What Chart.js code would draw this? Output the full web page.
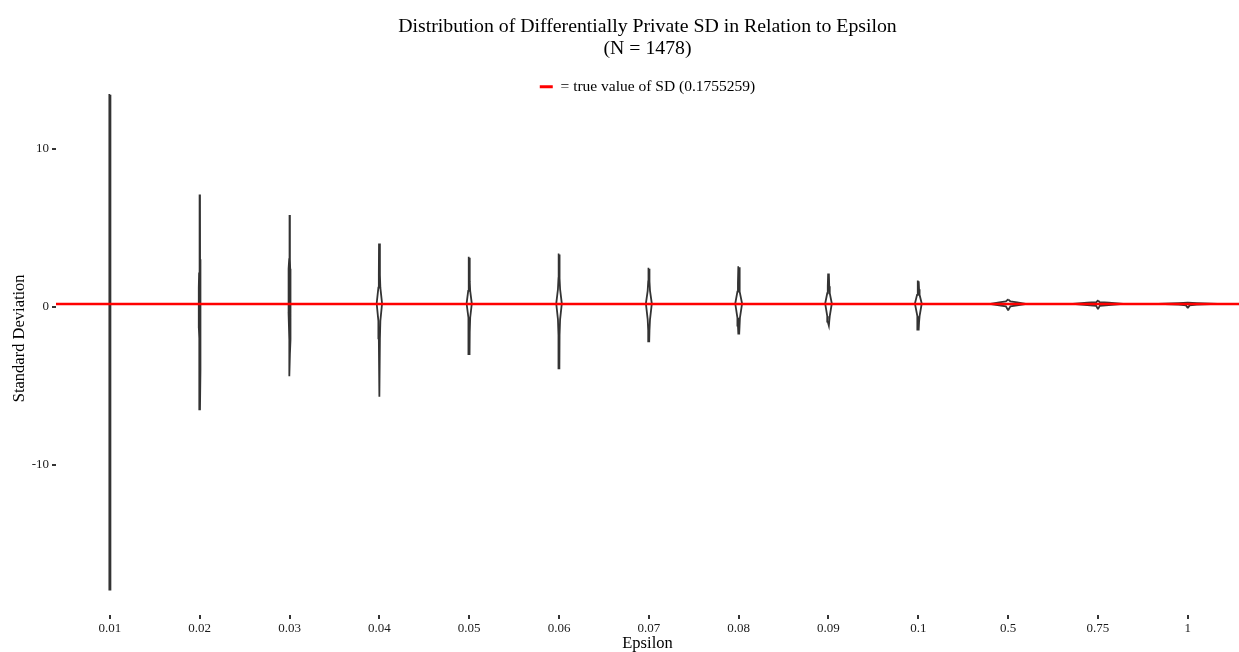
<!DOCTYPE html>
<html>
<head>
<meta charset="utf-8">
<title>DP SD vs Epsilon</title>
<script src="https://cdn.jsdelivr.net/npm/chart.js@4"></script>
<style>
  html, body { margin: 0; padding: 0; background: #fff; }
  #wrap { width: 1239px; height: 652px; }
</style>
</head>
<body>
<div id="wrap"><canvas id="violinChart"></canvas></div>
<script>
// ── data ──
const epsilons = ['0.01','0.02','0.03','0.04','0.05','0.06','0.07','0.08','0.09','0.1','0.5','0.75','1'];
const trueSD = 0.1755259;
const yTicks = [-10, 0, 10];

// violin outlines, top → bottom: SD value and half width (category units)
const profileY = [
  [13.4, 3.0, 1.7, 0.8, 0.2, -0.5, -1.45, -4.0, -17.9],
  [7.1, 3.0, 2.1, 1.2, 0.2, -1.3, -2.0, -4.0, -6.5],
  [5.8, 3.0, 2.4, 1.1, 0.3, -0.4, -2.1, -3.0, -4.4],
  [4.0, 2.0, 1.2, 0.2, -0.9, -2.0, -5.7],
  [3.1, 1.6, 1.0, 0.2, -0.7, -1.6, -3.0],
  [3.3, 1.8, 1.1, 0.2, -0.8, -1.8, -3.9],
  [2.4, 1.6, 1.0, 0.2, -0.8, -1.5, -2.2],
  [2.5, 1.5, 0.95, 0.2, -0.7, -1.2, -1.7],
  [2.1, 1.3, 0.85, 0.2, -0.6, -0.95, -1.2],
  [1.6, 1.1, 0.75, 0.2, -0.6, -1.0, -1.45],
  [0.45, 0.33, 0.27, 0.175, 0.08, 0.02, -0.2],
  [0.38, 0.28, 0.25, 0.175, 0.1, 0.05, -0.12],
  [0.25, 0.22, 0.175, 0.13, 0.08, -0.06]
];
const profileW = [
  [0.003, 0.004, 0.006, 0.008, 0.009, 0.008, 0.006, 0.004, 0.003],
  [0.003, 0.004, 0.007, 0.01, 0.011, 0.01, 0.007, 0.004, 0.003],
  [0.003, 0.004, 0.007, 0.012, 0.013, 0.011, 0.006, 0.004, 0.003],
  [0.004, 0.006, 0.011, 0.03, 0.011, 0.006, 0.004],
  [0.004, 0.006, 0.011, 0.029, 0.011, 0.006, 0.004],
  [0.004, 0.006, 0.012, 0.031, 0.012, 0.006, 0.004],
  [0.004, 0.007, 0.013, 0.033, 0.013, 0.007, 0.004],
  [0.004, 0.008, 0.014, 0.038, 0.014, 0.008, 0.004],
  [0.004, 0.008, 0.014, 0.037, 0.014, 0.008, 0.004],
  [0.004, 0.008, 0.014, 0.038, 0.014, 0.008, 0.004],
  [0.003, 0.025, 0.1, 0.2, 0.1, 0.025, 0.003],
  [0.003, 0.02, 0.12, 0.28, 0.12, 0.02, 0.003],
  [0.003, 0.1, 0.33, 0.1, 0.02, 0.003]
];

const serif = "'Liberation Serif', 'Times New Roman', serif";
const inkColor = '#333333';

// ── datasets ──
const violinSets = epsilons.map((eps, i) => {
  const ys = profileY[i], ws = profileW[i];
  const right = ys.map((y, k) => ({ x: i + ws[k], y }));
  const left = ys.map((y, k) => ({ x: i - ws[k], y })).reverse();
  return {
    label: 'eps ' + eps,
    data: right.concat(left, [right[0]]),
    showLine: true, fill: false,
    borderColor: inkColor, borderWidth: 1.8,
    pointRadius: 0, tension: 0,
    clip: false, order: 1
  };
});

const sdLine = {
  label: '= true value of SD (0.1755259)',
  data: [{ x: -0.6, y: trueSD }, { x: 12.6, y: trueSD }],
  showLine: true, fill: false,
  borderColor: '#ff0000', backgroundColor: '#ff0000', borderWidth: 2.5,
  pointRadius: 0, order: 0
};

// y axis title, centred on the full panel height like the original
const yTitlePlugin = {
  id: 'yTitle',
  afterDraw(chart) {
    const { ctx, scales: { y } } = chart;
    ctx.save();
    ctx.translate(20, y.getPixelForValue(-2));
    ctx.rotate(-Math.PI / 2);
    ctx.font = '16.5px ' + serif;
    ctx.fillStyle = '#000';
    ctx.textAlign = 'center';
    ctx.textBaseline = 'middle';
    ctx.fillText('Standard Deviation', 0, 0);
    ctx.restore();
  }
};

new Chart(document.getElementById('violinChart').getContext('2d'), {
  type: 'scatter',
  data: { datasets: [sdLine].concat(violinSets) },
  plugins: [yTitlePlugin],
  options: {
    responsive: true, maintainAspectRatio: false,
    animation: false,
    events: [],
    layout: { padding: 0 },
    plugins: {
      tooltip: { enabled: false },
      title: {
        display: true, fullSize: false,
        text: ['Distribution of Differentially Private SD in Relation to Epsilon', '(N = 1478)'],
        color: '#000',
        font: { family: serif, size: 19.8, weight: 'normal', lineHeight: 1.11 },
        padding: { top: 16, bottom: 9 }
      },
      legend: {
        display: true, position: 'top', fullSize: false,
        labels: {
          boxWidth: 13, boxHeight: 3, padding: 10,
          color: '#000',
          font: { family: serif, size: 15.5 },
          generateLabels: chart => [{
            text: sdLine.label, fillStyle: '#ff0000', strokeStyle: '#ff0000',
            lineWidth: 0, datasetIndex: 0, hidden: false
          }]
        }
      }
    },
    scales: {
      x: {
        type: 'linear', min: -0.6, max: 12.57,
        afterBuildTicks: s => { s.ticks = epsilons.map((_, i) => ({ value: i })); },
        afterFit: s => { s.height = 37; },
        ticks: {
          callback: v => epsilons[v], autoSkip: false, maxRotation: 0,
          color: '#1a1a1a', padding: 2, font: { family: serif, size: 13 }
        },
        grid: { drawOnChartArea: false, drawTicks: true, tickLength: 4, color: inkColor, lineWidth: 2 },
        border: { display: false },
        title: { display: true, text: 'Epsilon', color: '#000', font: { family: serif, size: 16.5, lineHeight: 1 }, padding: { top: 0, bottom: 0 } }
      },
      y: {
        min: -19.5, max: 12.79,
        afterBuildTicks: s => { s.ticks = yTicks.map(v => ({ value: v })); },
        afterFit: s => { s.width = 56; },
        ticks: { color: '#1a1a1a', padding: 3, font: { family: serif, size: 13 } },
        grid: { drawOnChartArea: false, drawTicks: true, tickLength: 4, color: inkColor, lineWidth: 2 },
        border: { display: false }
      }
    }
  }
});
</script>
</body>
</html>
